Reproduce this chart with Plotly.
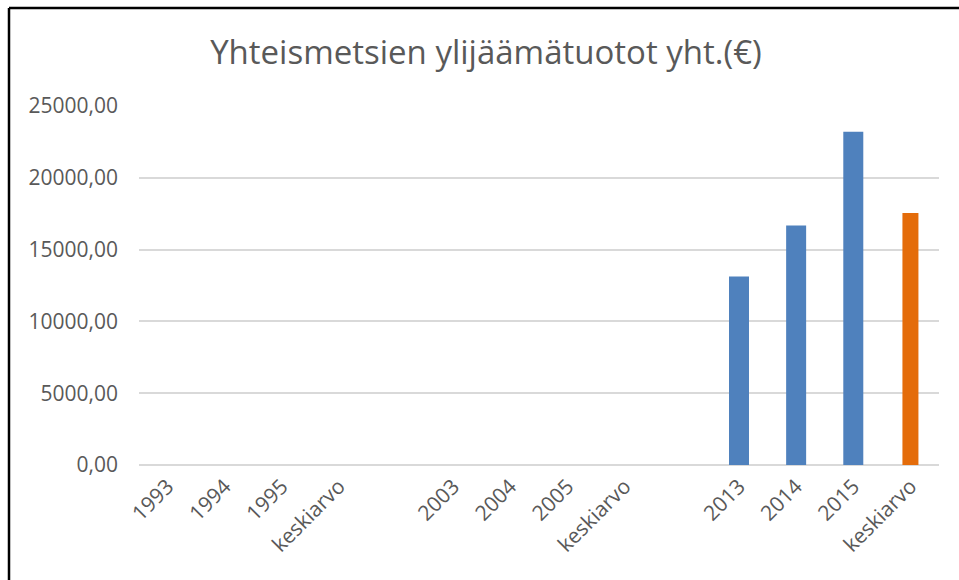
import plotly.graph_objects as go

# Data
categories = ["1993", "1994", "1995", "keskiarvo", "",
              "2003", "2004", "2005", "keskiarvo", "",
              "2013", "2014", "2015", "keskiarvo"]
values = [None, None, None, None, None,
          None, None, None, None, None,
          13125, 16680, 23210, 17545]
is_average = [False, False, False, True, False,
              False, False, False, True, False,
              False, False, False, True]

positions = list(range(len(categories)))
colors = ["#E46C0A" if a else "#4F81BD" for a in is_average]
widths = [0.28 if a else 0.35 for a in is_average]

FONT = "Open Sans, Lato, sans-serif"
GRAY = "#595959"

W, H = 959, 580
L, R, T, B = 139, 20, 106, 115
PW, PH = W - L - R, H - T - B

fig = go.Figure()
fig.add_trace(go.Bar(
    x=positions, y=values,
    marker=dict(color=colors, line=dict(width=0)),
    width=widths,
    showlegend=False,
    hoverinfo="x+y",
))

fig.update_layout(
    width=W, height=H,
    margin=dict(l=L, r=R, t=T, b=B),
    paper_bgcolor="white", plot_bgcolor="white",
    separators=", ",
    title=dict(text="Yhteismetsien ylijäämätuotot yht.(€)",
               x=486 / W, xanchor="center",
               y=1 - 52 / H, yanchor="middle",
               font=dict(family=FONT, size=33, color=GRAY)),
    font=dict(family=FONT, color=GRAY),
)

fig.update_xaxes(
    range=[-0.5, len(categories) - 0.5],
    tickmode="array", tickvals=positions, ticktext=categories,
    tickangle=-45, tickfont=dict(family=FONT, size=21, color=GRAY),
    showgrid=False, zeroline=False, showline=False, ticks="",
    ticklabelstandoff=4,
)
fig.update_yaxes(
    range=[0, 25000], dtick=5000, tickformat=".2f",
    tickfont=dict(family=FONT, size=21, color=GRAY),
    showgrid=True, gridcolor="#D9D9D9", gridwidth=1.5,
    zeroline=True, zerolinecolor="#D9D9D9", zerolinewidth=1.5,
    showline=False, ticks="", ticklabelstandoff=20,
)

# chart-area border (left and top edges visible in the reference)
bx = (9 - L) / PW
by = (H - B - 8) / PH
fig.add_shape(type="line", xref="paper", yref="paper",
              x0=bx, x1=bx, y0=by, y1=-B / PH,
              line=dict(color="black", width=2.5))
fig.add_shape(type="line", xref="paper", yref="paper",
              x0=bx, x1=(W - L) / PW, y0=by, y1=by,
              line=dict(color="black", width=2.5))

fig.write_html(
    "out.html",
    config={"displayModeBar": False},
    post_script="document.body.style.margin='0';"
                "document.documentElement.style.overflow='hidden';",
)
